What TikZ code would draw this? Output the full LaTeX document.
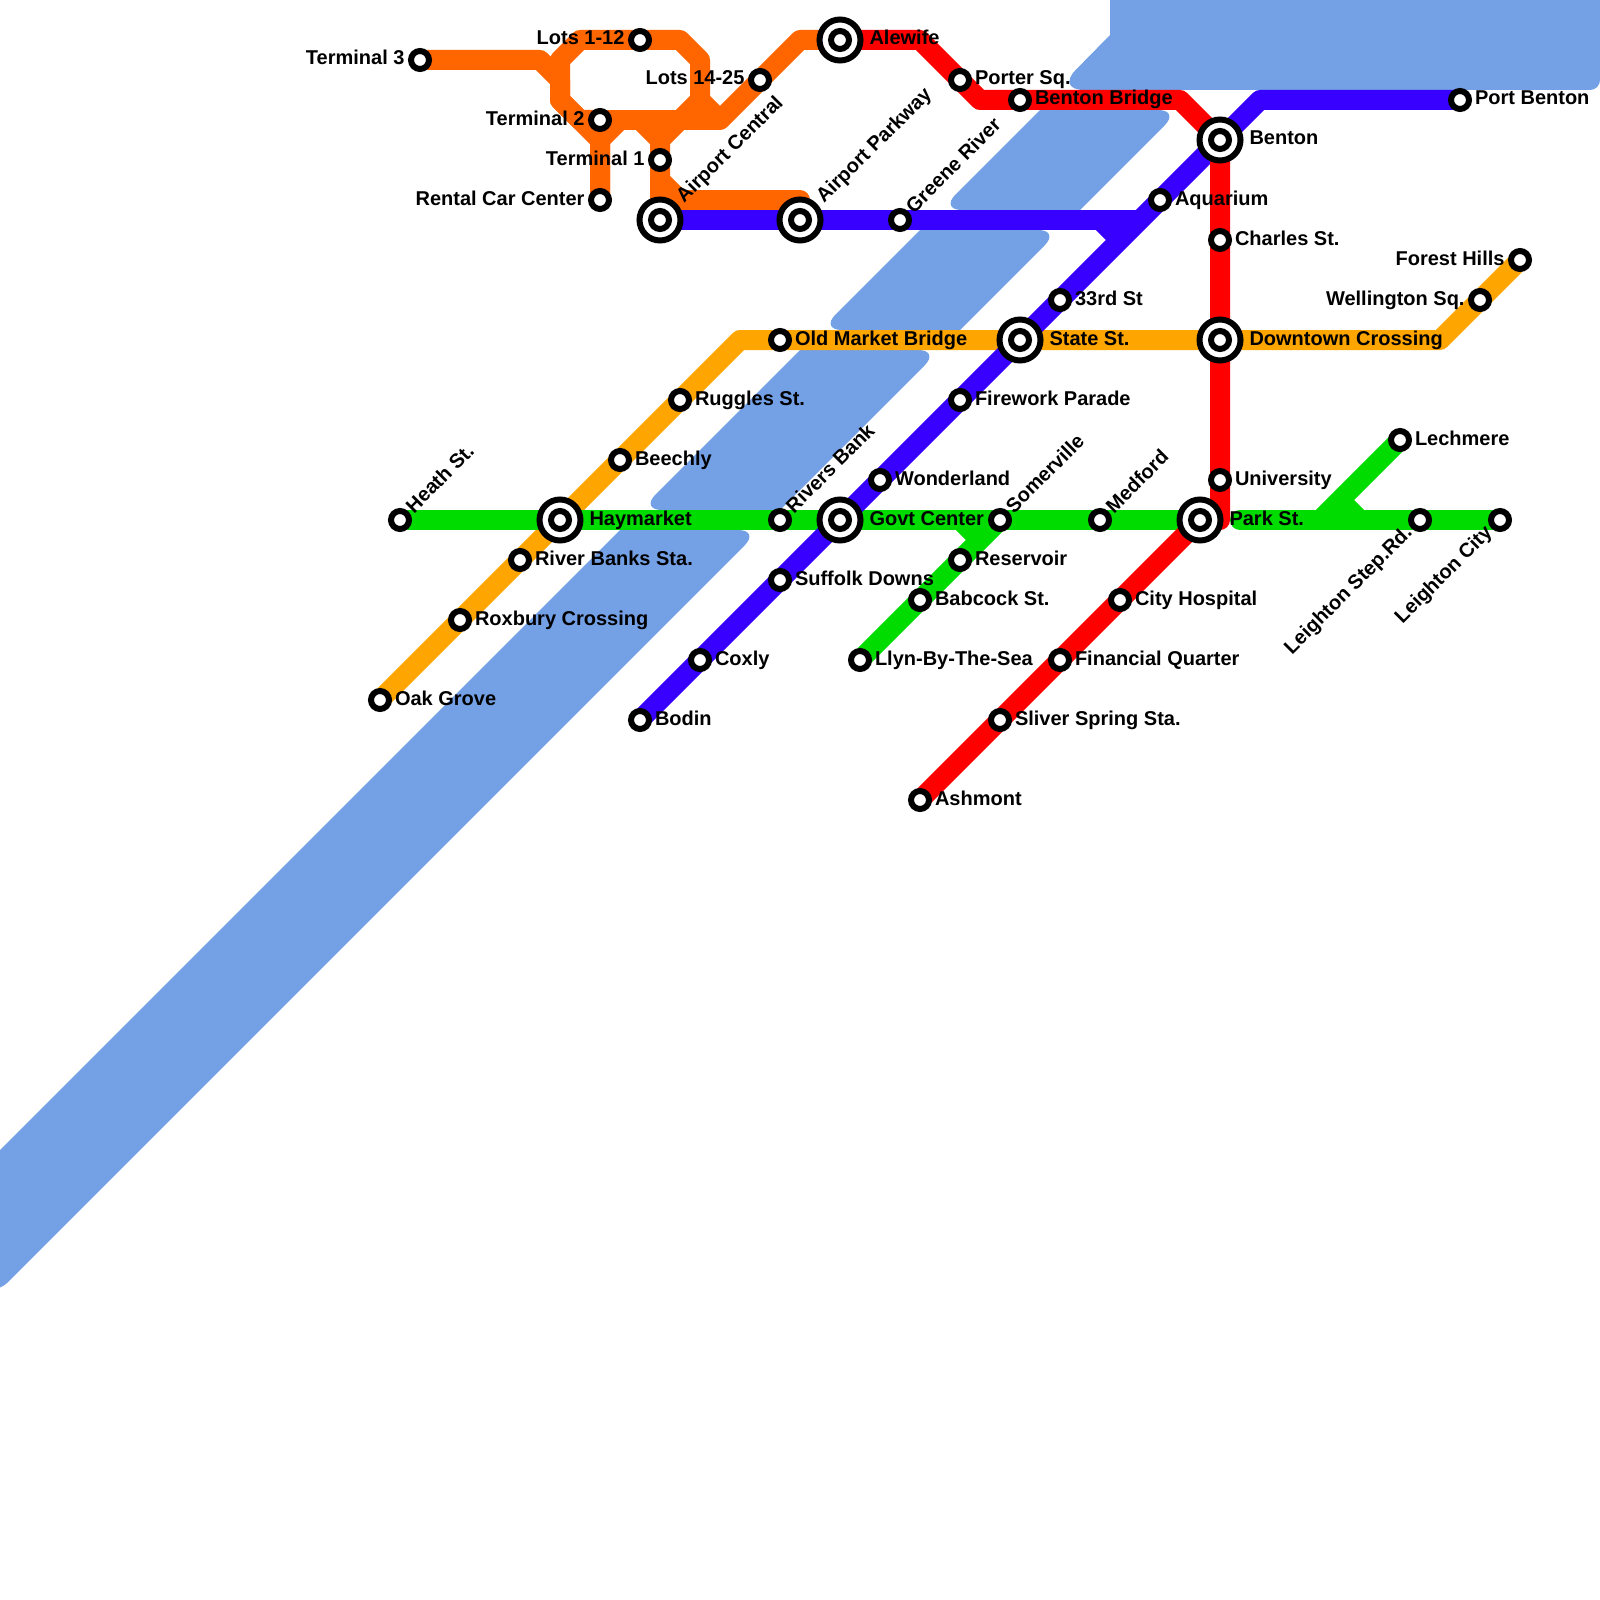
\documentclass[tikz,border=0pt]{standalone}
\usepackage{fontspec}
\setmainfont{Liberation Sans}
\usepackage{xcolor}
\usepackage{tikz}
\usetikzlibrary{positioning, backgrounds}

\definecolor{watercol}{RGB}{116,160,230}
\definecolor{orangecol}{RGB}{255,102,0}
\definecolor{ambercol}{RGB}{255,165,0}
\definecolor{greencol}{RGB}{0,220,0}
\definecolor{bluecol}{RGB}{56,0,255}
\definecolor{redcol}{RGB}{255,0,0}

\begin{document}
\begin{tikzpicture}[x=1pt, y=1pt, on grid]
        \tikzstyle{station} = [circle, draw=black, fill=white, line width=6pt, minimum size=18pt, inner sep=0pt]
        \tikzstyle{hub} = [circle, draw=black, fill=white, line width=6pt, minimum size=41pt, inner sep=0pt, path picture={\draw [line width=6pt, fill=white] (path picture bounding box.center) circle (9pt);}]
        \tikzstyle{stnname} = [inner sep=0pt, outer sep=0pt, font=\fontsize{20}{20}\selectfont\bfseries, text height=14pt, text depth=4pt]
        \tikzstyle{rn} = [label={[stnname, xshift=3pt]right:#1}]
        \tikzstyle{hrn} = [label={[stnname, xshift=6pt]right:#1}]
        \tikzstyle{ln} = [label={[stnname, xshift=-3.5pt]left:#1}]
        \tikzstyle{un} = [label={[stnname, xshift=2pt, yshift=1pt, rotate=45, anchor=west]45:#1}]
        \tikzstyle{hun} = [label={[stnname, xshift=4pt, yshift=3pt, rotate=45, anchor=west]45:#1}]
        \tikzstyle{dn} = [label={[stnname, xshift=-2pt, yshift=-2pt, rotate=45, anchor=east]225:#1}]
        \tikzstyle{tube} = [line width=20pt, line join=round]
        \tikzstyle{water} = [fill=watercol, sharp corners]

        \path [use as bounding box] (0,0) rectangle (1600,-1600);

        % green main line
        \node (heath) [station, un=Heath St.] at (400,-520) {};
        \node (haymarket) [hub, hrn=Haymarket, right=160pt of heath] {};
        \node (rivers) [station, un=Rivers Bank, right=220pt of haymarket] {};
        \node (govt) [hub, hrn=Govt Center, right=60pt of rivers] {};
        \node (somerville) [station, un=Somerville, right=160pt of govt] {};
        \node (medford) [station, un=Medford, right=100pt of somerville] {};
        \node (parkst) [hub, hrn=Park St., right=100pt of medford] {};
        \coordinate [right=40pt of parkst] (parkeast);
        \node (leightonstep) [station, dn=Leighton Step.Rd., right=220pt of parkst] {};
        \node (leightoncity) [station, dn=Leighton City, right=80pt of leightonstep] {};
        \node (lechmere) [station, rn=Lechmere, above left=80pt and 20pt of leightonstep] {};
        \node (reservoir) [station, rn=Reservoir, below left=40pt and 40pt of somerville] {};
        \node (babcock) [station, rn=Babcock St., below left=40pt and 40pt of reservoir] {};
        \node (llyn) [station, rn=Llyn-By-The-Sea, below left=60pt and 60pt of babcock] {};

        % amber line
        \node (river) [station, rn=River Banks Sta., below left=40pt and 40pt of haymarket] {};
        \node (roxbury) [station, rn=Roxbury Crossing, below left=60pt and 60pt of river] {};
        \node (oak) [station, rn=Oak Grove, below left=80pt and 80pt of roxbury] {};
        \node (beechly) [station, rn=Beechly, above right=60pt and 60pt of haymarket] {};
        \node (ruggles) [station, rn=Ruggles St., above right=60pt and 60pt of beechly] {};
        \node (oldmarket) [station, rn=Old Market Bridge, above right=60pt and 100pt of ruggles] {};
        \node (state) [hub, hrn=State St., right=240pt of oldmarket] {};
        \node (downtown) [hub, hrn=Downtown Crossing, right=200pt of state] {};
        \node (wellington) [station, ln=Wellington Sq., above right=40pt and 260pt of downtown] {};
        \node (forest) [station, ln=Forest Hills, above right=40pt and 40pt of wellington] {};

        % blue line
        \node (wonderland) [station, rn=Wonderland, above right=40pt and 40pt of govt] {};
        \node (firework) [station, rn=Firework Parade, above right=80pt and 80pt of wonderland] {};
        \node (third) [station, rn=33rd St, above right=40pt and 40pt of state] {};
        \node (aquarium) [station, rn=Aquarium, above right=100pt and 100pt of third] {};
        \node (benton) [hub, hrn=Benton, above right=60pt and 60pt of aquarium] {};
        \node (portbenton) [station, rn=Port Benton, above right=40pt and 240pt of benton] {};
        \node (suffolk) [station, rn=Suffolk Downs, below left=60pt and 60pt of govt] {};
        \node (coxly) [station, rn=Coxly, below left=80pt and 80pt of suffolk] {};
        \node (bodin) [station, rn=Bodin, below left=60pt and 60pt of coxly] {};
        \node (greene) [station, un=Greene River, left=260pt of aquarium, yshift=-20pt] {};
        \node (parkway) [hub, hun=Airport Parkway, left=100pt of greene] {};
        \node (central) [hub, hun=Airport Central, left=140pt of parkway] {};
        \coordinate [right=200pt of greene] (spur);

        % red line
        \node (charles) [station, rn=Charles St., below=100pt of benton] {};
        \node (university) [station, rn=University, below=140pt of downtown] {};
        \node (hospital) [station, rn=City Hospital, below left=80pt and 80pt of parkst] {};
        \node (financial) [station, rn=Financial Quarter, below left=60pt and 60pt of hospital] {};
        \node (sliver) [station, rn=Sliver Spring Sta., below left=60pt and 60pt of financial] {};
        \node (ashmont) [station, rn=Ashmont, below left=80pt and 80pt of sliver] {};
        \node (bridge) [station, rn=Benton Bridge, above left=40pt and 200pt of benton] {};
        \node (porter) [station, rn=Porter Sq., above left=20pt and 60pt of bridge] {};
        \node (alewife) [hub, hrn=Alewife, above left=40pt and 120pt of porter] {};

        % orange airport lines
        \node (lotsback) [station, ln=Lots 14-25, left=80pt of alewife, yshift=-40pt] {};
        \node (lotsfront) [station, ln=Lots 1-12, left=200pt of alewife] {};
        \node (termthree) [station, ln=Terminal 3, below left=20pt and 220pt of lotsfront] {};
        \node (termtwo) [station, ln=Terminal 2, below left=80pt and 40pt of lotsfront] {};
        \node (termone) [station, ln=Terminal 1, above=60pt of central] {};
        \node (rental) [station, ln=Rental Car Center, below=80pt of termtwo] {};

        \begin{scope}[on background layer]
        \clip (0,0) rectangle (1600,-1600);
        \fill [water] (1110,0) -- (1110,-35) [rounded corners=28pt] -- (1056,-90) [rounded corners=10pt] -- (1600,-90) [sharp corners] -- (1600,0) -- cycle;
        \fill [water] (1040,-110) [rounded corners=22pt] -- (1180,-110) [sharp corners] -- (1080,-210) [rounded corners=22pt] -- (940,-210) [sharp corners] -- cycle;
        \fill [water] (920,-230) [rounded corners=22pt] -- (1060,-230) [sharp corners] -- (960,-330) [rounded corners=22pt] -- (820,-330) [sharp corners] -- cycle;
        \fill [water] (800,-350) [rounded corners=22pt] -- (940,-350) [sharp corners] -- (780,-510) [rounded corners=22pt] -- (640,-510) [sharp corners] -- cycle;
        \fill [water] (620,-530) [rounded corners=22pt] -- (760,-530) [rounded corners=10pt] -- (0,-1290) -- (-30,-1290) [sharp corners] -- (-30,-1180) -- cycle;

        \draw [tube, orangecol] (termthree.center) -- ++(120,0) -- ++(20,-20) -- ++(0,-20) -- ++(40,-40) -- (rental.center);
        \draw [tube, orangecol] (lotsfront.center) -- ++(-60,0) -- ++(-20,-20) -- ++(0,-40) -- ++(20,-20) -- (termtwo.center);
        \draw [tube, orangecol] (lotsfront.center) -- ++(40,0) -- ++(20,-20) -- ++(0,-40) -- ++(20,-20) -- (lotsback.center) -- ++(40,40) -- (alewife.center);
        \draw [tube, orangecol] (termtwo.center) -- ++(120,0);
        \draw [tube, orangecol] (lotsfront.center) ++(60,-60) -- ++(-20,-20);
        \draw [tube, orangecol] (rental.center) -- ++(0,60) -- ++(20,20);
        \draw [tube, orangecol] (termone.center) -- ++(0,20) -- ++(-20,20);
        \draw [tube, orangecol] (termone.center) ++(0,20) -- ++(20,20);
        \draw [tube, orangecol] (central.center) -- (termone.center);
        \draw [tube, orangecol] (termone.center) -- ++(0,-20) -- ++(20,-20) -- ++(120,0) -- (parkway.center);

        \draw [tube, ambercol] (oak.center) -- ++(360,360) -- ++(700,0) -- (forest.center);

        \draw [tube, greencol] (heath.center) -- (parkst.center);
        \draw [tube, greencol, line cap=round] (parkeast) -- (leightoncity.center);
        \draw [tube, greencol] (lechmere.center) -- ++(-80,-80);
        \draw [tube, greencol] (lechmere.center) ++(-60,-60) -- ++(20,-20);
        \draw [tube, greencol] (llyn.center) -- (somerville.center);
        \draw [tube, greencol] (somerville.center) ++(-40,0) -- ++(20,-20);

        \draw [tube, bluecol] (bodin.center) -- ++(620,620) -- (portbenton.center);
        \draw [tube, bluecol] (central.center) -- ++(480,0);
        \draw [tube, bluecol] (spur) -- ++(20,-20);

        \draw [tube, redcol] (alewife.center) -- ++(80,0) -- ++(60,-60) -- ++(200,0) -- (benton.center) -- ++(0,-380) -- (parkst.center) -- (ashmont.center);
        \end{scope}
\end{tikzpicture}
\end{document}
